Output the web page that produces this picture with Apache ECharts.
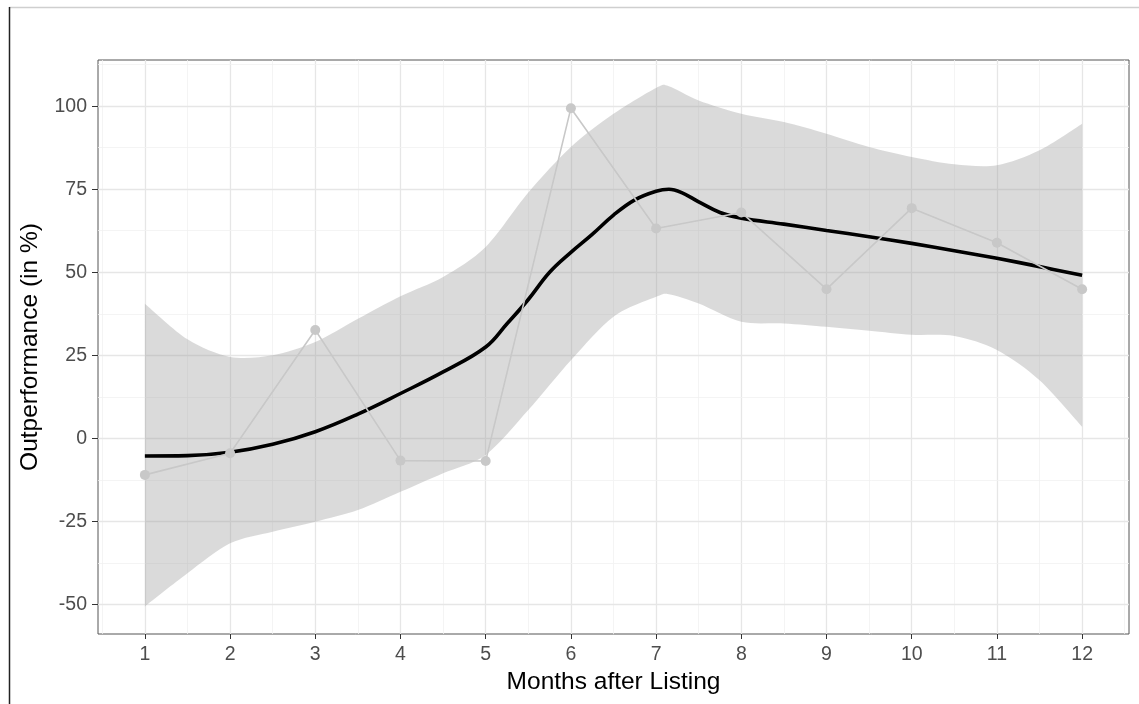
<!DOCTYPE html>
<html>
<head>
<meta charset="utf-8">
<script src="https://cdn.jsdelivr.net/npm/echarts@6/dist/echarts.min.js"></script>
<style>
html, body { margin: 0; padding: 0; background: #fff; }
#main { width: 1139px; height: 704px; }
</style>
</head>
<body>
<div id="main"></div>
<script>
// monthly outperformance (grey points)
var months = [1, 2, 3, 4, 5, 6, 7, 8, 9, 10, 11, 12];
var outperf = [-11.0, -4.5, 32.6, -6.7, -6.8, 99.4, 63.2, 68.0, 44.9, 69.3, 58.9, 44.9];

// smoothed trend (black line)
var smoothX = [1, 1.5, 2, 2.5, 3, 3.5, 4, 4.5, 5, 5.25, 5.5, 5.75, 6, 6.25, 6.5, 6.75, 7, 7.15, 7.3, 7.5, 7.75, 8, 8.5, 9, 9.5, 10, 10.5, 11, 11.5, 12];
var smoothY = [-5.3, -5.2, -4.2, -1.8, 2.0, 7.3, 13.5, 20.0, 27.5, 34.5, 41.8, 50.0, 56.0, 61.4, 67.2, 71.8, 74.4, 75.0, 74.0, 71.2, 68.0, 66.3, 64.5, 62.6, 60.7, 58.7, 56.5, 54.2, 51.7, 49.1];

// confidence band
var bandX = [1, 1.5, 2, 2.5, 3, 3.5, 4, 4.5, 5, 5.5, 6, 6.5, 7, 7.15, 7.5, 8, 8.5, 9, 9.5, 10, 10.5, 11, 11.5, 12];
var bandUpper = [40.5, 29.8, 24.5, 25.0, 29.0, 36.0, 42.8, 48.6, 57.6, 74.0, 87.7, 97.7, 105.5, 106.0, 101.7, 97.7, 95.2, 91.7, 87.7, 84.7, 82.5, 82.2, 86.7, 94.7];
var bandLower = [-50.6, -40.6, -31.6, -28.1, -25.1, -21.6, -16.1, -10.5, -5.0, 8.5, 23.5, 36.6, 42.6, 43.4, 40.6, 35.1, 34.6, 33.6, 32.4, 31.2, 30.8, 26.6, 17.5, 3.5];

// axis breaks
var yTicks = [-50, -25, 0, 25, 50, 75, 100];
var xMinor = [0.5, 1.5, 2.5, 3.5, 4.5, 5.5, 6.5, 7.5, 8.5, 9.5, 10.5, 11.5, 12.5];
var yMinor = [-37.5, -12.5, 12.5, 37.5, 62.5, 87.5, 112.5];

var myChart = echarts.init(document.getElementById('main'));

var majorStyle = { color: '#e6e6e6', width: 1.3, type: 'solid' };
var minorStyle = { color: '#f1f1f1', width: 0.8, type: 'solid' };
var gridLines = [];
months.forEach(function (v) { gridLines.push({ xAxis: v, lineStyle: majorStyle }); });
xMinor.forEach(function (v) { gridLines.push({ xAxis: v, lineStyle: minorStyle }); });
yTicks.forEach(function (v) { gridLines.push({ yAxis: v, lineStyle: majorStyle }); });
yMinor.forEach(function (v) { gridLines.push({ yAxis: v, lineStyle: minorStyle }); });

// catmull-rom style bezier through screen points
function curvePath(pts, first) {
	var d = first ? 'M' + pts[0][0] + ',' + pts[0][1] : 'L' + pts[0][0] + ',' + pts[0][1];
	var t = 0.9;
	for (var i = 0; i < pts.length - 1; i++) {
		var p0 = pts[Math.max(i - 1, 0)], p1 = pts[i], p2 = pts[i + 1], p3 = pts[Math.min(i + 2, pts.length - 1)];
		var c1x = p1[0] + (p2[0] - p0[0]) / 6 * t, c1y = p1[1] + (p2[1] - p0[1]) / 6 * t;
		var c2x = p2[0] - (p3[0] - p1[0]) / 6 * t, c2y = p2[1] - (p3[1] - p1[1]) / 6 * t;
		d += ' C' + c1x + ',' + c1y + ' ' + c2x + ',' + c2y + ' ' + p2[0] + ',' + p2[1];
	}
	return d;
}

var font = '"Liberation Sans", Arial, sans-serif';

var option = {
	animation: false,
	grid: {
		left: 98, right: 10, top: 60, bottom: 70,
		show: true, borderColor: '#555', borderWidth: 1
	},
	xAxis: {
		type: 'value', min: 0.45, max: 12.55,
		name: 'Months after Listing', nameLocation: 'middle', nameGap: 36,
		nameTextStyle: { color: '#000', fontSize: 24.5, fontFamily: font },
		axisLine: { show: false, onZero: false },
		splitLine: { show: false },
		axisTick: { show: true, length: 5, customValues: months, lineStyle: { color: '#333' } },
		axisLabel: { customValues: months, margin: 11, color: '#4d4d4d', fontSize: 19.5, fontFamily: font }
	},
	yAxis: {
		type: 'value', min: -58.9, max: 113.9,
		name: 'Outperformance (in %)', nameLocation: 'middle', nameGap: 55,
		nameTextStyle: { color: '#000', fontSize: 24.5, fontFamily: font },
		axisLine: { show: false, onZero: false },
		splitLine: { show: false },
		axisTick: { show: true, length: 6, customValues: yTicks, lineStyle: { color: '#333' } },
		axisLabel: { customValues: yTicks, margin: 11, color: '#4d4d4d', fontSize: 19.5, fontFamily: font }
	},
	graphic: [
		{ type: 'line', shape: { x1: 9, y1: 7.5, x2: 1139, y2: 7.5 }, style: { stroke: '#cfcfcf', lineWidth: 1.5 } },
		{ type: 'line', shape: { x1: 9.5, y1: 7, x2: 9.5, y2: 704 }, style: { stroke: '#222', lineWidth: 1.5 } }
	],
	series: [{
		name: 'grid',
		type: 'line',
		data: [],
		z: 0,
		silent: true,
		markLine: {
			z: 0,
			silent: true,
			symbol: ['none', 'none'],
			label: { show: false },
			data: gridLines
		}
	}, {
		name: 'band',
		type: 'custom',
		silent: true,
		z: 2,
		data: [0],
		renderItem: function (params, api) {
			var up = bandX.map(function (x, i) { return api.coord([x, bandUpper[i]]); });
			var lo = bandX.map(function (x, i) { return api.coord([x, bandLower[i]]); }).reverse();
			var d = curvePath(up, true) + ' ' + curvePath(lo, false) + ' Z';
			return {
				type: 'path',
				shape: { pathData: d },
				style: { fill: 'rgba(153,153,153,0.36)', stroke: null }
			};
		}
	}, {
		name: 'trend',
		type: 'line',
		data: smoothX.map(function (x, i) { return [x, smoothY[i]]; }),
		smooth: 0.4,
		symbol: 'none',
		lineStyle: { color: '#000', width: 3.6 },
		z: 3
	}, {
		name: 'outperformance',
		type: 'line',
		data: months.map(function (m, i) { return [m, outperf[i]]; }),
		symbol: 'circle',
		symbolSize: 10,
		itemStyle: { color: '#c8c8c8' },
		lineStyle: { color: '#c8c8c8', width: 1.6 },
		z: 4
	}]
};
myChart.setOption(option);
</script>
</body>
</html>
